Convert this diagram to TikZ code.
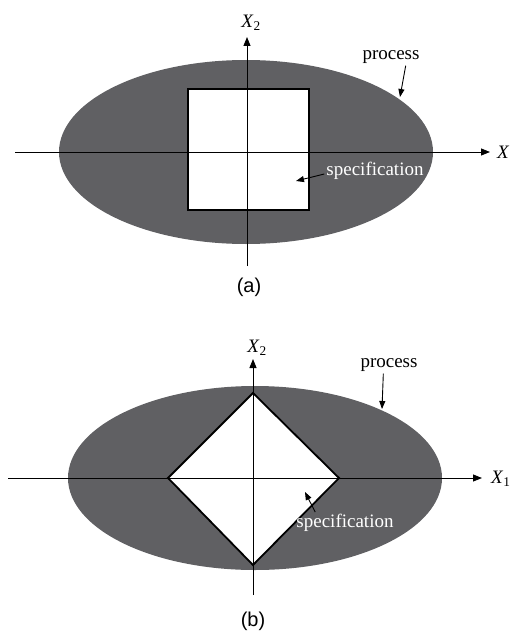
\documentclass[tikz,border=0pt]{standalone}
\usepackage{fontspec}
\setmainfont{Liberation Serif}
\newfontfamily\arialf{Liberation Sans}
\usetikzlibrary{arrows.meta}
\definecolor{procgray}{RGB}{96,96,99}
\tikzset{
  axis/.style={line width=0.9pt,-{Triangle[length=9pt,width=7pt]}},
  ptr/.style={line width=0.9pt,-{Triangle[length=8pt,width=6pt]}},
  spec/.style={draw=black,line width=1.8pt,fill=white,line join=miter},
  lbl/.style={font=\fontsize{19}{21}\selectfont,inner sep=0pt},
  wlbl/.style={lbl,text=white},
  captionlbl/.style={font=\arialf\fontsize{20}{22}\selectfont,inner sep=0pt}
}
\begin{document}
\begin{tikzpicture}[x=1pt,y=-1pt]
\useasboundingbox (0,0) rectangle (512,634);
% ---------- (a) ----------
\fill[procgray] (246,152) ellipse [x radius=187pt, y radius=92pt];
\draw[spec] (188,89) rectangle (309,210);
\coordinate (ha0) at (15,152);
\coordinate (ha1) at (490,152);
\coordinate (va0) at (247,266);
\coordinate (va1) at (247,37);
\draw[axis] (ha0) -- (ha1);
\draw[axis] (va0) -- (va1);
\node[lbl,anchor=west] (xa1) at (497,152) {\textit{X}};
\node[lbl] (xa2) at (251,23) {\textit{X}\textsubscript{2}};
\node[lbl] (pa) at (391,57) {process};
\coordinate (pat) at (400,97);
\draw[ptr] (pa.south east) ++(-14,2) -- (pat);
\node[wlbl] (sa) at (375,171) {specification};
\coordinate (sat) at (296,181);
\draw[ptr] (sa.west) ++(-2,3) -- (sat);
\node[captionlbl] (ca) at (249,287) {(a)};
% ---------- (b) ----------
\fill[procgray] (255,478) ellipse [x radius=187pt, y radius=92pt];
\coordinate (dl) at (168,478);
\coordinate (dr) at (339,478);
\coordinate (dt) at (253,393);
\coordinate (db) at (253,565);
\draw[spec] (dl) -- (dt) -- (dr) -- (db) -- cycle;
\coordinate (hb0) at (8,478);
\coordinate (hb1) at (482,478);
\coordinate (vb0) at (253,595);
\coordinate (vb1) at (253,359);
\draw[axis] (hb0) -- (hb1);
\draw[axis] (vb0) -- (vb1);
\node[lbl,anchor=west] (xb1) at (491,479) {\textit{X}\textsubscript{1}};
\node[lbl] (xb2) at (257,348) {\textit{X}\textsubscript{2}};
\node[lbl] (pb) at (389,365) {process};
\coordinate (pbt) at (382,409);
\draw[ptr] (pb.south west) ++(23,2) -- (pbt);
\node[wlbl] (sb) at (345,523) {specification};
\coordinate (sbt) at (305,492);
\draw[ptr] (sb.north west) ++(19,-2) -- (sbt);
\node[captionlbl] (cb) at (253,621) {(b)};
\end{tikzpicture}
\end{document}
